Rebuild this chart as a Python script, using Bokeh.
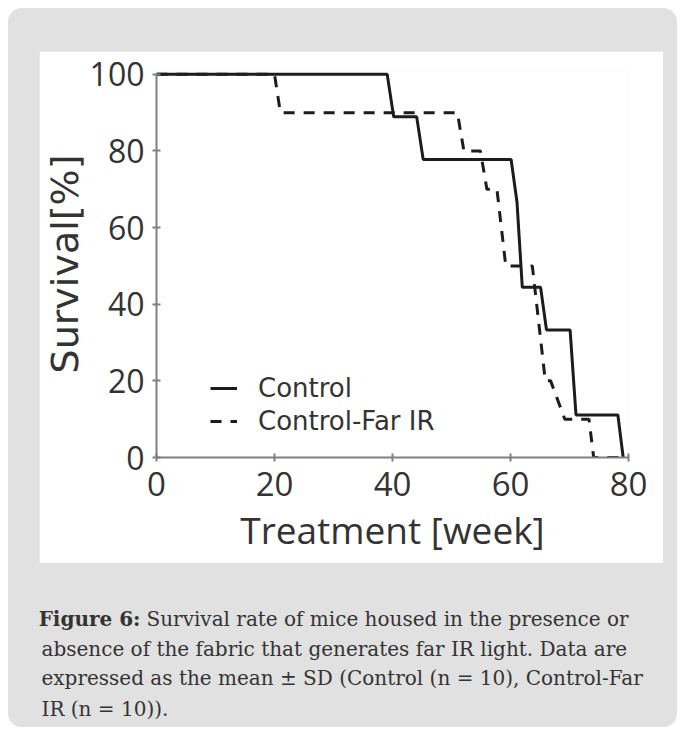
from bokeh.plotting import figure
from bokeh.models import Range1d, Label, Legend, LegendItem, Spacer
from bokeh.layouts import column, row
from bokeh.embed import file_html
from bokeh.resources import INLINE

# ---- data ----
ctrl_week = [0, 39.1, 40.2, 44.1, 45.2, 60.1, 61.1, 62.0, 65.1, 66.1, 70.1, 71.1, 78.2, 79.1]
ctrl_surv = [100, 100, 88.9, 88.9, 77.8, 77.8, 66.7, 44.4, 44.4, 33.3, 33.3, 11.1, 11.1, 0]
fir_week = [0, 20, 21, 51, 52.1, 54.9, 56, 57.7, 59.2, 63.7, 65.9, 66.8, 69.2, 73.3, 74.1, 78.6]
fir_surv = [100, 100, 90, 90, 80, 80, 70, 70, 50, 50, 20, 20, 10, 10, 0, 0]
x_ticks = [0, 20, 40, 60, 80]
y_ticks = [0, 20, 40, 60, 80, 100]
series_names = ["Control", "Control-Far IR"]
x_title = "Treatment [week]"
y_title = "Survival[%]"
caption_bold = "Figure 6:"
caption_lines = [
    "Survival rate of mice housed in the presence or",
    "absence of the fabric that generates far IR light. Data are",
    "expressed as the mean \u00b1 SD (Control (n = 10), Control-Far",
    "IR (n = 10)).",
]

GRAY = "#e1e1e1"
TXT = "#333333"

# ---- chart panel (white) ----
CW, CH = 624, 512
FL, FR, FT, FB = 117, 589, 19, 406

p = figure(width=CW, height=CH, x_range=Range1d(0, 80), y_range=Range1d(0, 101),
           output_backend="svg", toolbar_location=None,
           min_border_left=FL, min_border_right=CW - FR,
           min_border_top=FT, min_border_bottom=CH - FB)
p.outline_line_color = None
p.grid.visible = False
p.border_fill_color = "white"
p.background_fill_color = "white"

r1 = p.line(ctrl_week, ctrl_surv, line_width=3, line_color="#1c1c1c")
r2 = p.line(fir_week, fir_surv, line_width=3, line_color="#1c1c1c", line_dash="11 9")

for ax in (p.xaxis[0], p.yaxis[0]):
    ax.axis_line_color = "#808080"
    ax.axis_line_width = 2
    ax.major_tick_line_color = "#808080"
    ax.major_tick_line_width = 2
    ax.major_tick_in = 4
    ax.major_tick_out = 4
    ax.minor_tick_line_color = None
    ax.major_label_text_font = "Open Sans"
    ax.major_label_text_font_size = "33px"
    ax.major_label_text_color = TXT
    ax.axis_label_text_font_style = "normal"
    ax.axis_label_text_color = TXT

p.yaxis.major_label_text_font_size = "32px"
p.xaxis.ticker = x_ticks
p.yaxis.ticker = y_ticks
p.xaxis.bounds = (0, 80)
p.yaxis.bounds = (0, 100)
p.xaxis.axis_label = x_title
p.yaxis.axis_label = y_title
p.xaxis.axis_label_text_font = "Open Sans"
p.xaxis.axis_label_text_font_size = "37px"
p.yaxis.axis_label_text_font = "DejaVu Sans"
p.yaxis.axis_label_text_font_size = "38px"
p.xaxis.major_label_standoff = 10
p.yaxis.major_label_standoff = 8
p.xaxis.axis_label_standoff = 5
p.yaxis.axis_label_standoff = 0

legend = Legend(items=[LegendItem(label=series_names[0], renderers=[r1]),
                       LegendItem(label=series_names[1], renderers=[r2])],
                location=(54, 21), background_fill_alpha=0, border_line_alpha=0,
                padding=0, margin=0, spacing=3, glyph_width=27, label_standoff=21,
                label_text_font="DejaVu Sans", label_text_font_size="26px",
                label_text_color=TXT)
p.add_layout(legend)

# ---- caption panel (gray) ----
KW, KH = 669, 164
cap = figure(width=KW, height=KH, x_range=Range1d(0, 1), y_range=Range1d(0, 1),
             output_backend="svg", toolbar_location=None,
             x_axis_type=None, y_axis_type=None, min_border=0)
cap.outline_line_color = None
cap.grid.visible = False
cap.border_fill_color = GRAY
cap.background_fill_color = GRAY

base_y = [109, 79, 50, 19]
x0 = 33
gap_x = 138
cap.add_layout(Label(x=gap_x - 6, y=base_y[0], x_units="screen", y_units="screen",
                     text=caption_bold, text_font="DejaVu Serif", text_font_style="bold",
                     text_font_size="20px", text_color=TXT, text_baseline="alphabetic",
                     text_align="right"))
starts = [gap_x, x0, x0, x0]
for txt, yb, xs in zip(caption_lines, base_y, starts):
    cap.add_layout(Label(x=xs, y=yb, x_units="screen", y_units="screen",
                         text=txt, text_font="DejaVu Serif", text_font_size="20px",
                         text_color=TXT, text_baseline="alphabetic"))

gray_box = column(Spacer(height=43, width=KW),
                  row(Spacer(width=31, height=CH), p, Spacer(width=14, height=CH)),
                  cap,
                  styles={"background-color": GRAY, "border-radius": "14px",
                          "overflow": "hidden"})
page = column(Spacer(height=8, width=684),
              row(Spacer(width=8, height=719), gray_box))

open("out.html", "w").write(file_html(page, INLINE))
